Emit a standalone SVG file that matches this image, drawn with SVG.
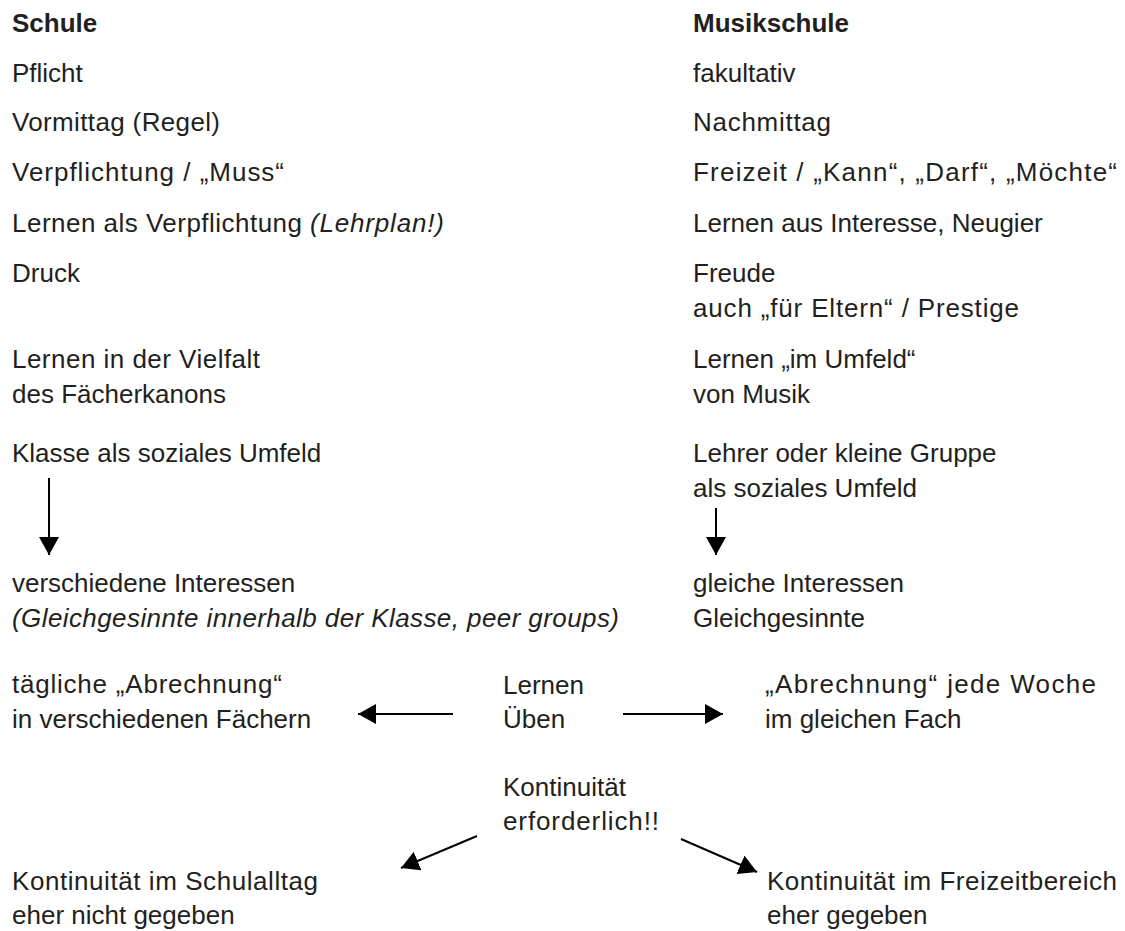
<svg xmlns="http://www.w3.org/2000/svg" width="1125" height="931" viewBox="0 0 1125 931">
<style>
text{font-family:"Liberation Sans",Arial,sans-serif;font-size:26px;fill:#231f20}
.b{font-weight:bold}
.i{font-style:italic}
.c line{stroke:#000;stroke-width:2;fill:none}
</style>
<defs>
<marker id="ah" markerUnits="userSpaceOnUse" markerWidth="18" markerHeight="20" refX="18" refY="10" orient="auto" viewBox="0 0 18 20">
<path d="M0,0 L18,10 L0,20 z" fill="#000"/>
</marker>
</defs>
<rect width="1125" height="931" fill="#fff"/>
<g id="h-schule"><text class="b" x="12" y="32">Schule</text></g>
<g id="h-musikschule"><text class="b" x="693" y="32">Musikschule</text></g>
<g id="l1"><text x="12" y="82">Pflicht</text></g>
<g id="r1"><text x="693" y="82">fakultativ</text></g>
<g id="l2"><text x="12" y="131" textLength="208" lengthAdjust="spacing">Vormittag (Regel)</text></g>
<g id="r2"><text x="693" y="131" textLength="138" lengthAdjust="spacing">Nachmittag</text></g>
<g id="l3"><text x="12" y="181" textLength="272" lengthAdjust="spacing">Verpflichtung / „Muss“</text></g>
<g id="r3"><text x="693" y="181" textLength="424" lengthAdjust="spacing">Freizeit / „Kann“, „Darf“, „Möchte“</text></g>
<g id="l4"><text x="12" y="232" textLength="290" lengthAdjust="spacing">Lernen als Verpflichtung</text><text class="i" x="310" y="232" textLength="134" lengthAdjust="spacing">(Lehrplan!)</text></g>
<g id="r4"><text x="693" y="232">Lernen aus Interesse, Neugier</text></g>
<g id="l5"><text x="12" y="282">Druck</text></g>
<g id="r5"><text x="693" y="282">Freude</text><text x="693" y="317" textLength="326" lengthAdjust="spacing">auch „für Eltern“ / Prestige</text></g>
<g id="l6"><text x="12" y="368" textLength="248" lengthAdjust="spacing">Lernen in der Vielfalt</text><text x="12" y="403">des Fächerkanons</text></g>
<g id="r6"><text x="693" y="368">Lernen „im Umfeld“</text><text x="693" y="403">von Musik</text></g>
<g id="l7"><text x="12" y="462">Klasse als soziales Umfeld</text></g>
<g id="r7"><text x="693" y="462">Lehrer oder kleine Gruppe</text><text x="693" y="497">als soziales Umfeld</text></g>
<g id="l8"><text x="12" y="592">verschiedene Interessen</text><text class="i" x="12" y="627" textLength="607" lengthAdjust="spacing">(Gleichgesinnte innerhalb der Klasse, peer groups)</text></g>
<g id="r8"><text x="693" y="592">gleiche Interessen</text><text x="693" y="627">Gleichgesinnte</text></g>
<g id="l9"><text x="12" y="693" textLength="270" lengthAdjust="spacing">tägliche „Abrechnung“</text><text x="12" y="728">in verschiedenen Fächern</text></g>
<g id="m9"><text x="503" y="694">Lernen</text><text x="503" y="728">Üben</text></g>
<g id="r9"><text x="765" y="693" textLength="331" lengthAdjust="spacing">„Abrechnung“ jede Woche</text><text x="765" y="728">im gleichen Fach</text></g>
<g id="m10"><text x="503" y="796">Kontinuität</text><text x="503" y="830" textLength="156" lengthAdjust="spacing">erforderlich!!</text></g>
<g id="l11"><text x="12" y="890" textLength="306" lengthAdjust="spacing">Kontinuität im Schulalltag</text><text x="12" y="924">eher nicht gegeben</text></g>
<g id="r11"><text x="767" y="890" textLength="350" lengthAdjust="spacing">Kontinuität im Freizeitbereich</text><text x="767" y="924">eher gegeben</text></g>
<g id="connectors" class="c">
<line x1="49" y1="478" x2="49" y2="555" marker-end="url(#ah)"/>
<line x1="716" y1="508" x2="716" y2="555" marker-end="url(#ah)"/>
<line x1="453" y1="714" x2="358" y2="714" marker-end="url(#ah)"/>
<line x1="623" y1="714" x2="723" y2="714" marker-end="url(#ah)"/>
<line x1="477" y1="836" x2="401" y2="868" marker-end="url(#ah)"/>
<line x1="681" y1="839" x2="757" y2="872" marker-end="url(#ah)"/>
</g>
</svg>
